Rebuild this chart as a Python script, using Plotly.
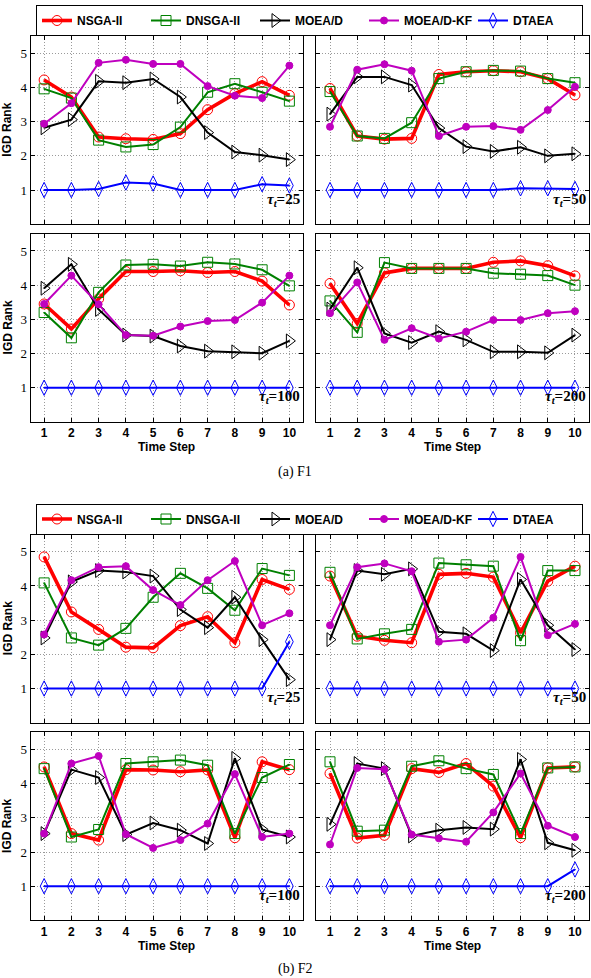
import plotly.graph_objects as go

W, H = 591, 978
steps = list(range(1, 11))
algorithms = ["NSGA-II", "DNSGA-II", "MOEA/D", "MOEA/D-KF", "DTAEA"]
taus = [25, 50, 100, 200]
ytick_vals = [1, 2, 3, 4, 5]

# ---------------- F1 ----------------
f1_t25_nsga2 = [4.22, 3.72, 2.55, 2.50, 2.48, 2.65, 3.35, 3.82, 4.17, 3.77]
f1_t25_dnsga2 = [3.96, 3.69, 2.46, 2.26, 2.33, 2.84, 3.86, 4.11, 3.86, 3.60]
f1_t25_moead = [2.82, 3.06, 4.18, 4.14, 4.25, 3.72, 2.68, 2.11, 2.02, 1.89]
f1_t25_moeadkf = [2.94, 3.54, 4.72, 4.81, 4.69, 4.69, 4.04, 3.76, 3.69, 4.64]
f1_t25_dtaea = [1.0, 1.0, 1.03, 1.22, 1.19, 1.0, 1.0, 1.0, 1.17, 1.13]

f1_t50_nsga2 = [3.97, 2.58, 2.49, 2.51, 4.38, 4.46, 4.49, 4.46, 4.26, 3.78]
f1_t50_dnsga2 = [3.88, 2.58, 2.51, 2.97, 4.26, 4.46, 4.50, 4.48, 4.26, 4.14]
f1_t50_moead = [3.22, 4.31, 4.31, 4.07, 2.81, 2.27, 2.13, 2.25, 2.00, 2.06]
f1_t50_moeadkf = [2.85, 4.52, 4.68, 4.49, 2.58, 2.85, 2.87, 2.76, 3.34, 4.02]
f1_t50_dtaea = [1.0, 1.0, 1.0, 1.0, 1.0, 1.0, 1.0, 1.05, 1.05, 1.03]

f1_t100_nsga2 = [3.45, 2.72, 3.60, 4.40, 4.40, 4.42, 4.37, 4.40, 4.12, 3.42]
f1_t100_dnsga2 = [3.20, 2.46, 3.79, 4.59, 4.61, 4.56, 4.67, 4.62, 4.45, 3.98]
f1_t100_moead = [3.91, 4.61, 3.29, 2.54, 2.51, 2.22, 2.07, 2.05, 2.01, 2.37]
f1_t100_moeadkf = [3.45, 4.28, 3.44, 2.54, 2.52, 2.79, 2.95, 2.98, 3.49, 4.28]
f1_t100_dtaea = [1.0, 1.0, 1.0, 1.0, 1.0, 1.0, 1.0, 1.0, 1.0, 1.0]

f1_t200_nsga2 = [4.05, 2.88, 4.36, 4.49, 4.49, 4.49, 4.67, 4.71, 4.57, 4.27]
f1_t200_dnsga2 = [3.54, 2.62, 4.66, 4.49, 4.49, 4.49, 4.35, 4.32, 4.28, 4.00]
f1_t200_moead = [3.30, 4.51, 2.59, 2.32, 2.64, 2.40, 2.05, 2.05, 2.02, 2.54]
f1_t200_moeadkf = [3.18, 4.08, 2.40, 2.74, 2.44, 2.64, 2.98, 2.98, 3.18, 3.24]
f1_t200_dtaea = [1.0, 1.0, 1.0, 1.0, 1.0, 1.0, 1.0, 1.0, 1.0, 1.0]

# ---------------- F2 ----------------
f2_t25_nsga2 = [4.85, 3.24, 2.73, 2.21, 2.19, 2.84, 3.10, 2.34, 4.19, 3.90]
f2_t25_dnsga2 = [4.09, 2.48, 2.27, 2.76, 3.67, 4.37, 3.93, 3.29, 4.51, 4.31]
f2_t25_moead = [2.48, 4.12, 4.45, 4.41, 4.29, 3.31, 2.78, 3.67, 2.43, 1.26]
f2_t25_moeadkf = [2.58, 4.17, 4.55, 4.58, 3.88, 3.44, 4.17, 4.73, 2.85, 3.20]
f2_t25_dtaea = [1.0, 1.0, 1.0, 1.0, 1.0, 1.0, 1.0, 1.0, 1.0, 2.37]

f2_t50_nsga2 = [4.29, 2.53, 2.41, 2.34, 4.34, 4.37, 4.26, 2.63, 4.14, 4.58]
f2_t50_dnsga2 = [4.40, 2.45, 2.60, 2.73, 4.67, 4.62, 4.58, 2.40, 4.45, 4.45]
f2_t50_moead = [2.43, 4.45, 4.34, 4.50, 2.66, 2.60, 2.11, 4.19, 2.85, 2.14]
f2_t50_moeadkf = [2.85, 4.55, 4.66, 4.43, 2.37, 2.43, 3.07, 4.85, 2.56, 2.89]
f2_t50_dtaea = [1.0, 1.0, 1.0, 1.0, 1.0, 1.0, 1.0, 1.0, 1.0, 1.0]

f2_t100_nsga2 = [4.49, 2.54, 2.35, 4.41, 4.40, 4.35, 4.40, 2.42, 4.64, 4.41]
f2_t100_dnsga2 = [4.44, 2.44, 2.66, 4.59, 4.64, 4.69, 4.54, 2.54, 4.18, 4.56]
f2_t100_moead = [2.54, 4.41, 4.18, 2.51, 2.85, 2.64, 2.25, 4.74, 2.66, 2.44]
f2_t100_moeadkf = [2.54, 4.59, 4.81, 2.52, 2.12, 2.35, 2.83, 4.28, 2.44, 2.54]
f2_t100_dtaea = [1.0, 1.0, 1.0, 1.0, 1.0, 1.0, 1.0, 1.0, 1.0, 1.0]

f2_t200_nsga2 = [4.30, 2.41, 2.49, 4.44, 4.33, 4.59, 3.93, 2.42, 4.46, 4.49]
f2_t200_dnsga2 = [4.64, 2.61, 2.64, 4.51, 4.67, 4.44, 4.27, 2.54, 4.46, 4.49]
f2_t200_moead = [2.81, 4.59, 4.44, 2.47, 2.64, 2.72, 2.67, 4.71, 2.27, 2.05]
f2_t200_moeadkf = [2.22, 4.46, 4.42, 2.51, 2.40, 2.30, 3.16, 4.30, 2.77, 2.44]
f2_t200_dtaea = [1.0, 1.0, 1.0, 1.0, 1.0, 1.0, 1.0, 1.0, 1.0, 1.49]

panels = [
    ("F1", 25, [f1_t25_nsga2, f1_t25_dnsga2, f1_t25_moead, f1_t25_moeadkf, f1_t25_dtaea]),
    ("F1", 50, [f1_t50_nsga2, f1_t50_dnsga2, f1_t50_moead, f1_t50_moeadkf, f1_t50_dtaea]),
    ("F1", 100, [f1_t100_nsga2, f1_t100_dnsga2, f1_t100_moead, f1_t100_moeadkf, f1_t100_dtaea]),
    ("F1", 200, [f1_t200_nsga2, f1_t200_dnsga2, f1_t200_moead, f1_t200_moeadkf, f1_t200_dtaea]),
    ("F2", 25, [f2_t25_nsga2, f2_t25_dnsga2, f2_t25_moead, f2_t25_moeadkf, f2_t25_dtaea]),
    ("F2", 50, [f2_t50_nsga2, f2_t50_dnsga2, f2_t50_moead, f2_t50_moeadkf, f2_t50_dtaea]),
    ("F2", 100, [f2_t100_nsga2, f2_t100_dnsga2, f2_t100_moead, f2_t100_moeadkf, f2_t100_dtaea]),
    ("F2", 200, [f2_t200_nsga2, f2_t200_dnsga2, f2_t200_moead, f2_t200_moeadkf, f2_t200_dtaea]),
]

# ---------------- styles ----------------
colors = ["#FF0000", "#008000", "#000000", "#BF00BF", "#0000FF"]
symbols = ["circle-open-dot", "square-open-dot", "triangle-right-open-dot", "circle", "diamond-tall-open-dot"]
msizes = [10, 10, 12, 7, 11]
lwidths = [3.6, 2, 2, 2, 2]

SANS = "Liberation Sans"
SERIF = "Liberation Serif"

# pixel geometry (top/bottom of plot areas, left/right of columns)
cols_px = [(30.5, 303.0), (316.4, 588.6)]
rows_px = [(36.2, 224.2), (233.9, 421.9), (534.7, 722.7), (732.4, 920.4)]


def px_x(a, b):
    return [a / W, b / W]


def px_y(t, b):
    return [1 - b / H, 1 - t / H]


fig = go.Figure()
layout = dict(
    width=W, height=H, margin=dict(l=0, r=0, t=0, b=0),
    paper_bgcolor="white", plot_bgcolor="white", showlegend=True,
)
annotations = []

for i, (fname, tau, series) in enumerate(panels):
    k = i + 1
    col = i % 2
    row = i // 2
    xa = "x" if k == 1 else f"x{k}"
    ya = "y" if k == 1 else f"y{k}"
    legend_name = "legend" if fname == "F1" else "legend2"
    show_leg = (tau == 25)
    for j, vals in enumerate(series):
        fig.add_trace(go.Scatter(
            x=steps, y=vals, mode="lines+markers", name=algorithms[j],
            xaxis=xa, yaxis=ya, legend=legend_name, showlegend=show_leg,
            line=dict(color=colors[j], width=lwidths[j]),
            marker=dict(symbol=symbols[j], size=msizes[j], color=colors[j],
                        line=dict(width=1, color=colors[j])),
            cliponaxis=False,
        ))
    bottom = row in (1, 3)
    xaxis = dict(
        domain=px_x(*cols_px[col]), anchor=ya, range=[0.5, 10.5],
        tickmode="array", tickvals=steps, ticktext=[str(s) for s in steps],
        showticklabels=bottom, ticks="inside", ticklen=4, tickcolor="black",
        mirror="ticks", showline=True, linecolor="black", linewidth=1,
        showgrid=True, gridcolor="#9a9a9a", griddash="1px,2px", gridwidth=1,
        zeroline=False, tickfont=dict(family=SANS, size=12, color="black", weight="bold"),
    )
    yaxis = dict(
        domain=px_y(*rows_px[row]), anchor=xa, range=[0, 5.5],
        tickmode="array", tickvals=ytick_vals, ticktext=[str(v) for v in ytick_vals],
        showticklabels=(col == 0), ticks="inside", ticklen=4, tickcolor="black",
        mirror="ticks", showline=True, linecolor="black", linewidth=1,
        showgrid=True, gridcolor="#9a9a9a", griddash="1px,2px", gridwidth=1,
        zeroline=False, tickfont=dict(family=SERIF, size=13, color="black"),
    )
    layout["xaxis" if k == 1 else f"xaxis{k}"] = xaxis
    layout["yaxis" if k == 1 else f"yaxis{k}"] = yaxis

    annotations.append(dict(
        text=f"<b><i>τ</i><sub><i>t</i></sub>=</b><b>{tau}</b>",
        xref=f"{xa} domain", yref=f"{ya} domain", x=0.997, y=0.13,
        xanchor="right", yanchor="middle", showarrow=False,
        font=dict(family=SERIF, size=15, color="black"),
    ))
    if col == 0:
        t, b = rows_px[row]
        annotations.append(dict(
            text="<b>IGD Rank</b>", xref="paper", yref="paper",
            x=7.5 / W, y=1 - (t + b) / 2 / H, textangle=-90,
            xanchor="center", yanchor="middle", showarrow=False,
            font=dict(family=SANS, size=12, color="black"),
        ))
    if bottom:
        l, r = cols_px[col]
        ty = 447 if row == 1 else 946
        annotations.append(dict(
            text="<b>Time Step</b>", xref="paper", yref="paper",
            x=(l + r) / 2 / W, y=1 - ty / H, xanchor="center", yanchor="middle",
            showarrow=False, font=dict(family=SANS, size=12, color="black"),
        ))

for cap, cy in [("(a) F1", 472), ("(b) F2", 969)]:
    annotations.append(dict(
        text=cap, xref="paper", yref="paper", x=295 / W, y=1 - cy / H,
        xanchor="center", yanchor="middle", showarrow=False,
        font=dict(family=SERIF, size=14, color="black"),
    ))

leg_common = dict(
    orientation="h", xanchor="center", yanchor="top", x=309.5 / W,
    bordercolor="black", borderwidth=1, bgcolor="white",
    font=dict(family=SANS, size=12, color="black", weight="bold"),
    itemwidth=30, tracegroupgap=0, entrywidth=64, entrywidthmode="pixels",
)
layout["legend"] = dict(leg_common, y=1 - 5 / H)
layout["legend2"] = dict(leg_common, y=1 - 503.5 / H)
layout["annotations"] = annotations

fig.update_layout(**layout)
fig.write_html("out.html")
